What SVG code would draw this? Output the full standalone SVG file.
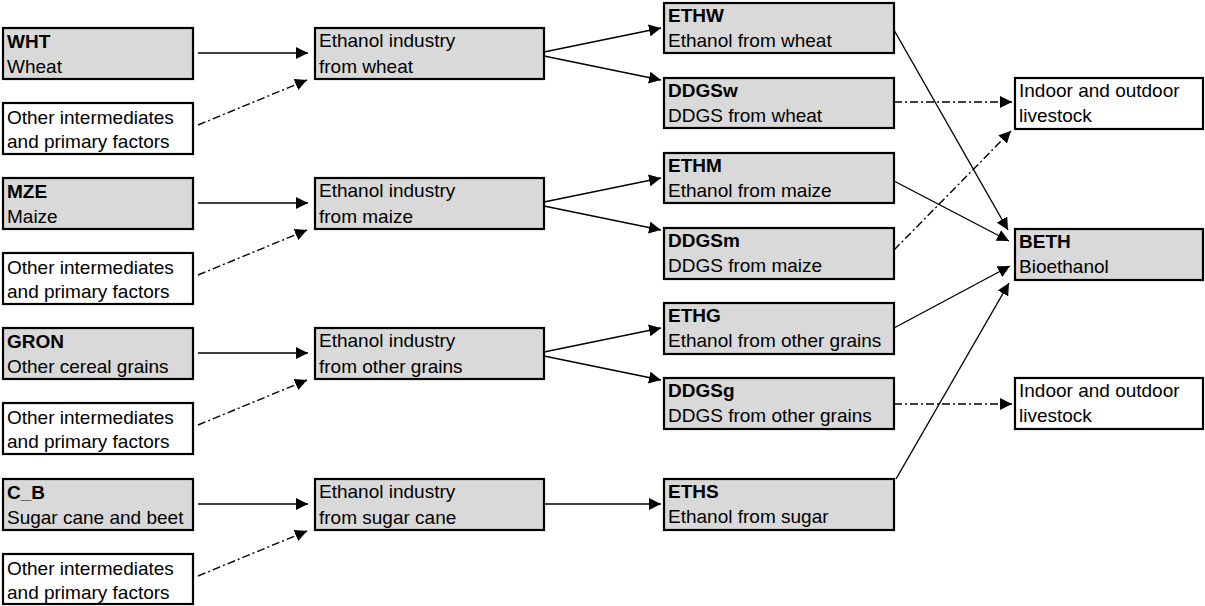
<svg xmlns="http://www.w3.org/2000/svg" width="1205" height="606" viewBox="0 0 1205 606">
<style>
.box{stroke:#000;stroke-width:2.2}
.g{fill:#d9d9d9}
.w{fill:#fff}
text{font-family:"Liberation Sans",Arial,sans-serif;font-size:19px;fill:#000}
.b{font-weight:bold}
.c{stroke:#000;stroke-width:1.4;fill:none}
.s{marker-end:url(#ah)}
.d{stroke-dasharray:8,3,2,3;marker-end:url(#ah)}
</style>
<defs>
<marker id="ah" markerUnits="userSpaceOnUse" markerWidth="13" markerHeight="12" refX="12" refY="6" orient="auto">
<path d="M0,0 L12,6 L0,12 Z" fill="#000"/>
</marker>
</defs>
<rect width="1205" height="606" fill="#fff"/>
<g id="connectors">
<line class="c s" x1="198" y1="53" x2="308" y2="53"/>
<line class="c d" x1="198" y1="125" x2="307" y2="80"/>
<line class="c s" x1="544" y1="52" x2="661" y2="28"/>
<line class="c s" x1="544" y1="56" x2="661" y2="80"/>
<line class="c s" x1="198" y1="203" x2="308" y2="203"/>
<line class="c d" x1="198" y1="275" x2="307" y2="230"/>
<line class="c s" x1="544" y1="202" x2="661" y2="178"/>
<line class="c s" x1="544" y1="206" x2="661" y2="230"/>
<line class="c s" x1="198" y1="353" x2="308" y2="353"/>
<line class="c d" x1="198" y1="425" x2="307" y2="380"/>
<line class="c s" x1="544" y1="352" x2="661" y2="328"/>
<line class="c s" x1="544" y1="356" x2="661" y2="380"/>
<line class="c s" x1="198" y1="504" x2="308" y2="504"/>
<line class="c d" x1="198" y1="576" x2="307" y2="531"/>
<line class="c s" x1="544" y1="504" x2="661" y2="504"/>
<line class="c s" x1="894" y1="30" x2="1008" y2="230"/>
<line class="c d" x1="894" y1="102" x2="1012" y2="102"/>
<line class="c s" x1="894" y1="181" x2="1009" y2="241"/>
<line class="c d" x1="894" y1="250" x2="1011" y2="131"/>
<line class="c s" x1="894" y1="328" x2="1010" y2="266"/>
<line class="c d" x1="894" y1="404" x2="1012" y2="404"/>
<line class="c s" x1="896" y1="479" x2="1009" y2="283"/>
</g>
<g id="WHT"><rect class="box g" x="3" y="28" width="190" height="51"/><text class="b" x="7" y="48">WHT</text><text x="7" y="73">Wheat</text></g>
<g id="OTH1"><rect class="box w" x="3" y="103" width="190" height="51"/><text x="7" y="124">Other intermediates</text><text x="7" y="148">and primary factors</text></g>
<g id="MZE"><rect class="box g" x="3" y="178" width="190" height="51"/><text class="b" x="7" y="198">MZE</text><text x="7" y="223">Maize</text></g>
<g id="OTH2"><rect class="box w" x="3" y="253" width="190" height="51"/><text x="7" y="274">Other intermediates</text><text x="7" y="298">and primary factors</text></g>
<g id="GRON"><rect class="box g" x="3" y="328" width="190" height="51"/><text class="b" x="7" y="348">GRON</text><text x="7" y="373">Other cereal grains</text></g>
<g id="OTH3"><rect class="box w" x="3" y="403" width="190" height="51"/><text x="7" y="424">Other intermediates</text><text x="7" y="448">and primary factors</text></g>
<g id="C_B"><rect class="box g" x="3" y="479" width="190" height="51"/><text class="b" x="7" y="499">C_B</text><text x="7" y="524">Sugar cane and beet</text></g>
<g id="OTH4"><rect class="box w" x="3" y="554" width="190" height="50"/><text x="7" y="575">Other intermediates</text><text x="7" y="599">and primary factors</text></g>
<g id="IND_W"><rect class="box g" x="315" y="28" width="229" height="51"/><text x="319" y="47">Ethanol industry</text><text x="319" y="73">from wheat</text></g>
<g id="IND_M"><rect class="box g" x="315" y="178" width="229" height="51"/><text x="319" y="197">Ethanol industry</text><text x="319" y="223">from maize</text></g>
<g id="IND_G"><rect class="box g" x="315" y="328" width="229" height="51"/><text x="319" y="347">Ethanol industry</text><text x="319" y="373">from other grains</text></g>
<g id="IND_S"><rect class="box g" x="315" y="479" width="229" height="51"/><text x="319" y="498">Ethanol industry</text><text x="319" y="524">from sugar cane</text></g>
<g id="ETHW"><rect class="box g" x="664" y="3" width="230" height="50"/><text class="b" x="668" y="22">ETHW</text><text x="668" y="47">Ethanol from wheat</text></g>
<g id="DDGSw"><rect class="box g" x="664" y="78" width="230" height="50"/><text class="b" x="668" y="97">DDGSw</text><text x="668" y="122">DDGS from wheat</text></g>
<g id="ETHM"><rect class="box g" x="664" y="153" width="230" height="50"/><text class="b" x="668" y="172">ETHM</text><text x="668" y="197">Ethanol from maize</text></g>
<g id="DDGSm"><rect class="box g" x="664" y="228" width="230" height="51"/><text class="b" x="668" y="247">DDGSm</text><text x="668" y="272">DDGS from maize</text></g>
<g id="ETHG"><rect class="box g" x="664" y="303" width="230" height="51"/><text class="b" x="668" y="322">ETHG</text><text x="668" y="347">Ethanol from other grains</text></g>
<g id="DDGSg"><rect class="box g" x="664" y="378" width="230" height="51"/><text class="b" x="668" y="397">DDGSg</text><text x="668" y="422">DDGS from other grains</text></g>
<g id="ETHS"><rect class="box g" x="664" y="479" width="230" height="51"/><text class="b" x="668" y="498">ETHS</text><text x="668" y="523">Ethanol from sugar</text></g>
<g id="LIV1"><rect class="box w" x="1015" y="78" width="188" height="51"/><text x="1019" y="97">Indoor and outdoor</text><text x="1019" y="122">livestock</text></g>
<g id="BETH"><rect class="box g" x="1015" y="229" width="188" height="51"/><text class="b" x="1019" y="248">BETH</text><text x="1019" y="273">Bioethanol</text></g>
<g id="LIV2"><rect class="box w" x="1015" y="378" width="188" height="51"/><text x="1019" y="397">Indoor and outdoor</text><text x="1019" y="422">livestock</text></g>
</svg>
